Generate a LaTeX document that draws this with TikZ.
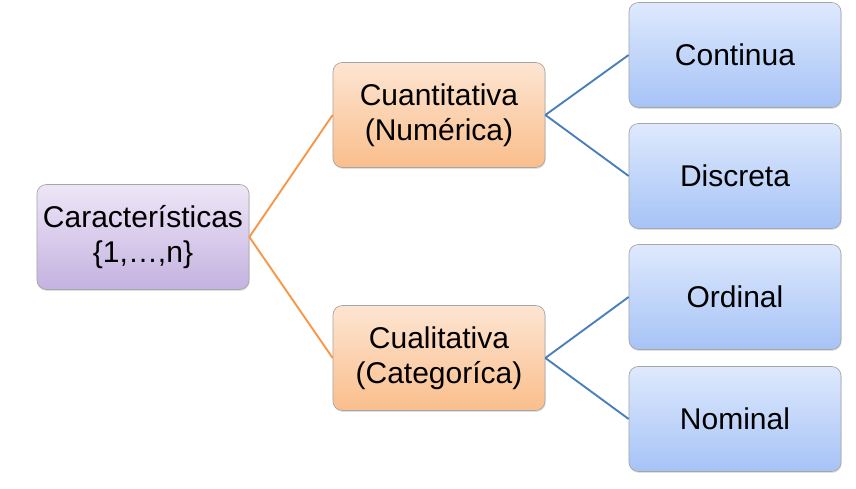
\documentclass[tikz,border=0pt]{standalone}
\usepackage{fontspec}
\setmainfont{Liberation Sans}
\usetikzlibrary{shadows}
\definecolor{lilatop}{RGB}{238,230,247}
\definecolor{lilabot}{RGB}{196,178,224}
\definecolor{narantop}{RGB}{253,229,210}
\definecolor{naranbot}{RGB}{250,190,140}
\definecolor{azultop}{RGB}{222,233,253}
\definecolor{azulbot}{RGB}{166,195,246}
\definecolor{lineanaran}{RGB}{246,150,70}
\definecolor{lineaazul}{RGB}{74,126,187}

\begin{document}
\begin{tikzpicture}[x=0.03cm,y=-0.03cm]
    \tikzstyle{caja}=[rectangle,rounded corners=8pt,draw=black!35,line width=0.6pt,
        minimum width=6.36cm,minimum height=3.15cm,inner sep=0pt,align=center,
        font=\fontsize{25.6pt}{30pt}\selectfont,
        drop shadow={shadow xshift=0.6pt,shadow yshift=-1.2pt,opacity=0.25}]
    \tikzstyle{lila}=[caja,top color=lilatop,bottom color=lilabot]
    \tikzstyle{naran}=[caja,top color=narantop,bottom color=naranbot]
    \tikzstyle{azul}=[caja,top color=azultop,bottom color=azulbot]
    \useasboundingbox (0,0) rectangle (856,489);

    \node[lila] (Raiz) at (143,237) {Características\\\{1,…,n\}};
    \node[naran] (Cuant) at (439,115) {Cuantitativa\\(Numérica)};
    \node[naran] (Cual) at (439,358) {Cualitativa\\(Categoríca)};

    \foreach \nom/\y/\txt in {Cont/55/Continua, Disc/176/Discreta, Ord/297/Ordinal, Nom/419/Nominal}
        \node[azul] (H-\nom) at (735,\y) {\txt};

    \foreach \to in {Cuant, Cual}
        \draw[lineanaran,line width=1.6pt] (Raiz.east) -- (\to.west);

    \foreach \from/\to in {Cuant/Cont, Cuant/Disc, Cual/Ord, Cual/Nom}
        \draw[lineaazul,line width=1.6pt] (\from.east) -- (H-\to.west);
\end{tikzpicture}
\end{document}
